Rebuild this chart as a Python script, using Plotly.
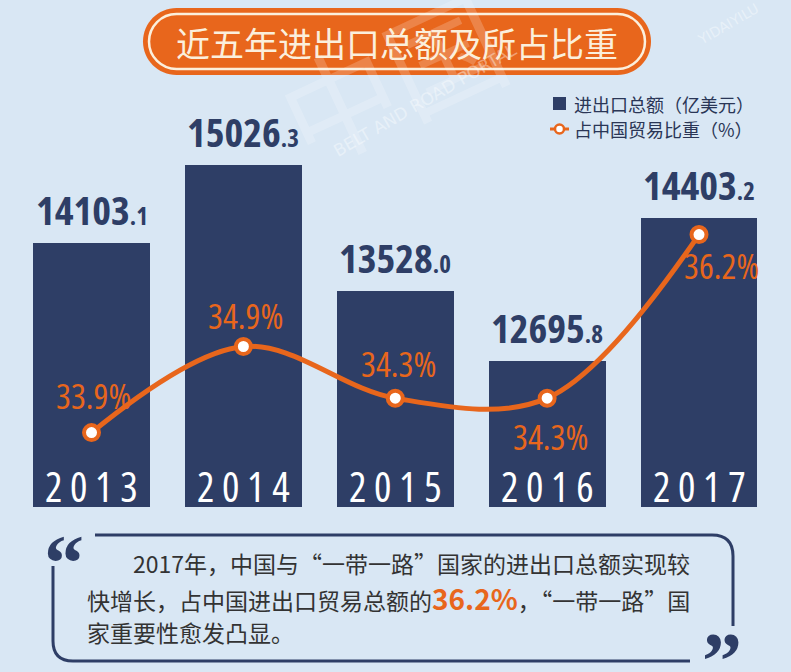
import plotly.graph_objects as go

# ---------------- data ----------------
YEARS = ["2013", "2014", "2015", "2016", "2017"]
TRADE = [14103.1, 15026.3, 13528.0, 12695.8, 14403.2]      # 亿美元
SHARE = [33.9, 34.9, 34.3, 34.3, 36.2]                      # %
SERIES_NAMES = ["进出口总额（亿美元）", "占中国贸易比重（%）"]
TITLE = "近五年进出口总额及所占比重"
NOTE_1 = "2017年，中国与“一带一路”国家的进出口总额实现较"
NOTE_2A = "快增长，占中国进出口贸易总额的"
NOTE_2B = "，“一带一路”国"
NOTE_3 = "家重要性愈发凸显。"

# ---------------- style ----------------
W, H = 791, 672
BG = "#d9e7f4"
NAVY = "#2e3e66"
ORANGE = "#e8661c"
CREAM = "#fbefdc"
NUM_FONT = "Open Sans, Roboto, sans-serif"
CJK = "Noto Sans CJK SC, Noto Sans, sans-serif"
COND = "font-stretch:75%"

# label offsets (pixels) for the percentage labels: (dx, dy up)
PCT_OFFSETS = [(2, 37), (2, 31), (3, 35), (3, -38), (22, -31)]


def px(x):
    return x / W


def py(y):
    return 1 - y / H


def P(x, y):
    return f"{px(x):.5f},{py(y):.5f}"


def cond(text, extra=""):
    return f"<span style='{COND};{extra}'>{text}</span>"


def rounded_rect(x0, y0, x1, y1, r):
    k = 0.5523 * r
    return (
        f"M {P(x0 + r, y0)} L {P(x1 - r, y0)} "
        f"C {P(x1 - r + k, y0)} {P(x1, y0 + r - k)} {P(x1, y0 + r)} "
        f"L {P(x1, y1 - r)} "
        f"C {P(x1, y1 - r + k)} {P(x1 - r + k, y1)} {P(x1 - r, y1)} "
        f"L {P(x0 + r, y1)} "
        f"C {P(x0 + r - k, y1)} {P(x0, y1 - r + k)} {P(x0, y1 - r)} "
        f"L {P(x0, y0 + r)} "
        f"C {P(x0, y0 + r - k)} {P(x0 + r - k, y0)} {P(x0 + r, y0)} Z"
    )


def paper_note(x, y, text, font, xanchor="center", **kw):
    return dict(x=px(x), y=py(y), xref="paper", yref="paper", xanchor=xanchor,
                yanchor="middle", showarrow=False, text=text, font=font, **kw)


fig = go.Figure()

fig.add_trace(go.Bar(
    x=YEARS, y=TRADE, name=SERIES_NAMES[0],
    marker=dict(color=NAVY, line=dict(width=0)),
    width=0.77, yaxis="y",
))
fig.add_trace(go.Scatter(
    x=YEARS, y=SHARE, name=SERIES_NAMES[1], yaxis="y2",
    mode="lines+markers",
    line=dict(color=ORANGE, width=5, shape="spline", smoothing=1.0),
    marker=dict(size=15, color="white", line=dict(color=ORANGE, width=4)),
    cliponaxis=False,
))

annotations = []

# value labels above bars (category axis -> use category index)
for i, v in enumerate(TRADE):
    ip, dp = f"{v:.1f}".split(".")
    annotations.append(dict(
        x=i, y=v, xref="x", yref="y", xanchor="center", yanchor="bottom", yshift=4,
        showarrow=False,
        text="<b>" + cond(ip) + cond("." + dp, "font-size:25px") + "</b>",
        font=dict(family=NUM_FONT, size=40, color=NAVY),
    ))

# year labels inside bars
for i, yr in enumerate(YEARS):
    annotations.append(dict(
        x=i, y=py(486), xref="x", yref="paper", xanchor="center", yanchor="middle",
        showarrow=False, text=cond(" ".join(yr)),
        font=dict(family=NUM_FONT, size=41, color="white"),
    ))

# percentage labels
for i, (s, (dx, dy)) in enumerate(zip(SHARE, PCT_OFFSETS)):
    annotations.append(dict(
        x=i, y=s, xref="x", yref="y2", showarrow=False,
        xshift=dx, yshift=dy, xanchor="center", yanchor="middle",
        text=cond(f"{s:.1f}%"),
        font=dict(family=NUM_FONT, size=35, color=ORANGE),
    ))

# watermark
annotations += [
    paper_note(390, 75, "中国", dict(family=CJK, size=115, color="rgba(255,255,255,0.2)"), textangle=-25),
    paper_note(425, 100, "BELT AND ROAD PORTAL",
               dict(family="DejaVu Sans", size=17, color="rgba(255,255,255,0.4)"), textangle=-30),
    paper_note(728, 24, "YIDAIYILU",
               dict(family="DejaVu Sans", size=14, color="rgba(255,255,255,0.4)"), textangle=-30),
]

# title
annotations.append(paper_note(397, 42, TITLE, dict(family=CJK, size=34, color=CREAM)))

# legend
leg_font = dict(family=CJK, size=18, color="#2a3656")
annotations += [
    paper_note(572, 104, SERIES_NAMES[0], leg_font, xanchor="left"),
    paper_note(572, 129, SERIES_NAMES[1], leg_font, xanchor="left"),
]

# note text
highlight = f"<b><span style='color:{ORANGE};font-size:28px'>{SHARE[-1]:.1f}%</span></b>"
note_font = dict(family=CJK, size=23, color="#333333")
quote_font = dict(family="Liberation Serif, serif", size=80, color=NAVY)
annotations += [
    paper_note(131, 563, NOTE_1, note_font, xanchor="left"),
    paper_note(85, 598, NOTE_2A + highlight + NOTE_2B, note_font, xanchor="left"),
    paper_note(85, 632, NOTE_3, note_font, xanchor="left"),
    paper_note(64, 563, "<b>“</b>", quote_font),
    paper_note(722, 661, "<b>”</b>", quote_font),
]

shapes = [
    # title pill
    dict(type="path", xref="paper", yref="paper", path=rounded_rect(143, 8, 651, 75, 33.5),
         fillcolor=ORANGE, line=dict(width=0), layer="below"),
    dict(type="path", xref="paper", yref="paper", path=rounded_rect(149, 14, 645, 69, 27.5),
         fillcolor="rgba(0,0,0,0)", line=dict(color=CREAM, width=2.5), layer="below"),
    # legend symbols
    dict(type="rect", xref="paper", yref="paper", x0=px(553), x1=px(566), y0=py(110), y1=py(97),
         fillcolor=NAVY, line=dict(width=0)),
    dict(type="line", xref="paper", yref="paper", x0=px(550), x1=px(569), y0=py(129), y1=py(129),
         line=dict(color=ORANGE, width=3)),
    dict(type="circle", xref="paper", yref="paper", x0=px(555), x1=px(564), y0=py(133.5), y1=py(124.5),
         fillcolor="white", line=dict(color=ORANGE, width=2.5)),
    # quote box
    dict(type="path", xref="paper", yref="paper",
         path=f"M {P(95, 535)} L {P(712, 535)} Q {P(733, 535)} {P(733, 556)} L {P(733, 626)}",
         fillcolor="rgba(0,0,0,0)", line=dict(color=NAVY, width=3)),
    dict(type="path", xref="paper", yref="paper",
         path=f"M {P(53, 566)} L {P(53, 641)} Q {P(53, 661)} {P(73, 661)} L {P(690, 661)}",
         fillcolor="rgba(0,0,0,0)", line=dict(color=NAVY, width=3)),
]

fig.update_layout(
    width=W, height=H,
    margin=dict(l=0, r=0, t=0, b=0, pad=0),
    paper_bgcolor=BG, plot_bgcolor=BG,
    showlegend=False,
    xaxis=dict(type="category", range=[-0.6025, 4.6057], domain=[0, 1], visible=False, fixedrange=True),
    yaxis=dict(range=[10961, 16996], domain=[1 - 507 / H, 1], visible=False),
    yaxis2=dict(range=[33.036, 38.924], overlaying="y", side="right", visible=False),
    annotations=annotations,
    shapes=shapes,
    bargap=0,
)

fig.write_html("out.html")
